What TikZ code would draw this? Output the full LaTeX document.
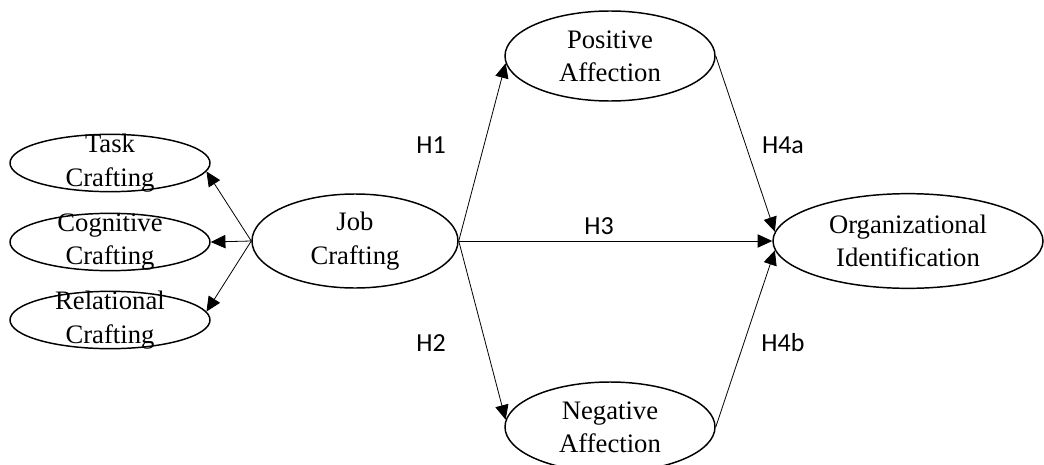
\documentclass[tikz,border=0pt]{standalone}
\usepackage{fontspec}
\setmainfont{Liberation Serif}
\newfontfamily\hfont{Carlito}
\usetikzlibrary{shapes.geometric,arrows.meta}

\begin{document}
\begin{tikzpicture}[x=0.75pt, y=-0.75pt,
    construct/.style={ellipse, draw, line width=1.1pt, inner sep=0pt, align=center, font=\fontsize{20}{25}\selectfont},
    dimension/.style={construct, minimum width=150pt, minimum height=43pt, inner ysep=-9pt},
    link/.style={line width=0.6pt, -{Triangle[length=11pt, width=10pt]}},
    hyp/.style={font=\hfont\fontsize{19.5}{22}\selectfont}]
    \useasboundingbox (0,0) rectangle (1044,464);

    % Ellipses
    \node[dimension] (task) at (110,163) {Task\\Crafting};
    \node[dimension] (cog) at (110,242) {Cognitive\\Crafting};
    \node[dimension] (rel) at (110,320) {Relational\\Crafting};
    \node[construct, minimum width=154.5pt, minimum height=70.5pt] (job) at (355,241) {Job\\Crafting};
    \node[construct, minimum width=157.5pt, minimum height=67.5pt] (pos) at (610,56) {Positive\\Affection};
    \node[construct, minimum width=157.5pt, minimum height=67.5pt] (neg) at (610,427) {Negative\\Affection};
    \node[construct, minimum width=202.5pt, minimum height=71pt] (org) at (908,241) {Organizational\\Identification};

    % Arrows
    \draw[link] (job.west) -- (task.-5);
    \draw[link] (job.west) -- (cog.east);
    \draw[link] (job.west) -- (rel.5);
    \draw[link] (job.east) -- (pos.184);
    \draw[link] (job.east) -- (neg.176);
    \draw[link] (job.east) -- (org.west);
    \draw[link] (pos.east) -- (org.176);
    \draw[link] (neg.east) -- (org.184);

    % Hypotheses
    \node[hyp] (h1) at (431,145) {H1};
    \node[hyp] (h2) at (431,343) {H2};
    \node[hyp] (h3) at (599,226) {H3};
    \node[hyp] (h4a) at (783,145) {H4a};
    \node[hyp] (h4b) at (783,343) {H4b};
\end{tikzpicture}
\end{document}
